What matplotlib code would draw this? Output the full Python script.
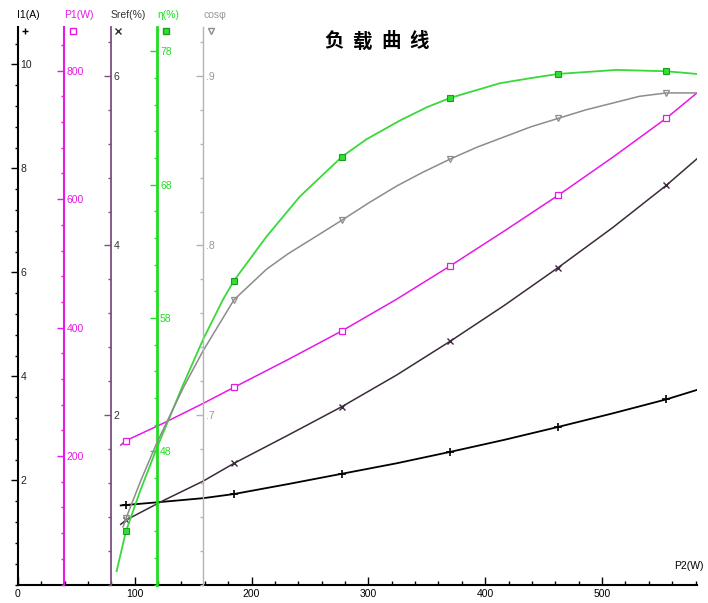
import matplotlib.pyplot as plt
from matplotlib.ticker import MultipleLocator

plt.rcParams['font.family'] = ['Liberation Sans', 'DejaVu Sans']

# measured load points (markers)
p2_mark = [92.5, 185, 277.5, 370, 462.5, 555]
i1_mark = [1.52, 1.74, 2.13, 2.55, 3.03, 3.56]
p1_mark = [224, 307, 395, 496, 606, 726]
sref_mark = [0.76, 1.43, 2.10, 2.87, 3.74, 4.71]
eta_mark = [42.0, 60.8, 70.1, 74.5, 76.3, 76.5]
cos_mark = [0.639, 0.768, 0.815, 0.851, 0.875, 0.890]

# fitted curves
i1_x = [88, 119, 158.6, 185, 231, 277.5, 324, 370, 416, 462.5, 509, 555, 581]
i1_y = [1.52, 1.58, 1.66, 1.74, 1.93, 2.13, 2.33, 2.55, 2.78, 3.03, 3.29, 3.56, 3.74]

p1_x = [88, 92.5, 124.4, 158.6, 185, 231, 277.5, 324, 370, 416, 462.5, 509, 555, 581]
p1_y = [217, 224, 251, 282, 307, 350, 395, 444, 496, 550, 606, 665, 726, 765]

sref_x = [88, 92.5, 124.4, 158.6, 185, 231, 277.5, 324, 370, 416, 462.5, 509, 555, 581]
sref_y = [0.71, 0.76, 0.99, 1.22, 1.43, 1.76, 2.10, 2.47, 2.87, 3.29, 3.74, 4.21, 4.71, 5.02]

eta_x = [84.5, 92.5, 105, 119.2, 141.5, 158.6, 175.7, 185, 212.8, 241.3, 277.5,
         298.4, 326.9, 350, 370, 412.4, 440, 462.5, 512.2, 555, 581]
eta_y = [39.0, 42.0, 45.1, 48.3, 53.0, 56.4, 59.4, 60.8, 64.1, 67.1, 70.1,
         71.4, 72.8, 73.8, 74.5, 75.6, 76.0, 76.3, 76.6, 76.5, 76.3]

cos_x = [90, 92.5, 105, 119.2, 141.5, 158.6, 185, 212.8, 231, 252, 277.5, 300,
         324, 346, 370, 393, 416, 439, 462.5, 486, 509, 532, 555, 581]
cos_y = [0.634, 0.639, 0.661, 0.684, 0.716, 0.738, 0.768, 0.786, 0.795, 0.804, 0.815, 0.825,
         0.835, 0.843, 0.851, 0.858, 0.864, 0.870, 0.875, 0.880, 0.884, 0.888, 0.890, 0.890]

W, H = 708, 603
x0, x1 = 17.9, 696.7      # pixel span of P2 axis
ybot, ytop = 584.5, 27.0  # pixel span of vertical axes
rect = [x0 / W, (H - ybot) / H, (x1 - x0) / W, (ybot - ytop) / H]

fig = plt.figure(figsize=(W / 100, H / 100), dpi=100)
ax = fig.add_axes(rect)
ax.set_xlim(0, 581)
ax.set_ylim(0, 1)
for s in ['top', 'right', 'left']:
    ax.spines[s].set_visible(False)
ax.spines['bottom'].set_linewidth(1.5)
ax.yaxis.set_visible(False)
ax.set_xticks([0, 100, 200, 300, 400, 500])
ax.xaxis.set_minor_locator(MultipleLocator(20))
ax.tick_params(axis='x', which='major', direction='in', length=6, width=1, labelsize=7.5, pad=3)
ax.tick_params(axis='x', which='minor', direction='in', length=3, width=1)


def side_axis(px, color, lw, ylim, major, labels, minor, labelcolor):
    a = fig.add_axes(rect, sharex=ax)
    a.patch.set_visible(False)
    for s in ['top', 'right', 'bottom']:
        a.spines[s].set_visible(False)
    a.spines['left'].set_position(('axes', (px - x0) / (x1 - x0)))
    a.spines['left'].set_color(color)
    a.spines['left'].set_linewidth(lw)
    a.xaxis.set_visible(False)
    a.set_ylim(*ylim)
    a.set_yticks(major)
    a.set_yticklabels(labels)
    a.yaxis.set_minor_locator(MultipleLocator(minor))
    a.tick_params(axis='y', which='major', direction='out', length=5, width=1,
                  color=color, labelcolor=labelcolor, labelsize=7.5, pad=-7)
    a.tick_params(axis='y', which='minor', direction='out', length=2.5, width=1, color=color)
    for t in a.get_yticklabels():
        t.set_horizontalalignment('left')
    return a


magenta = '#e619e6'
green = '#22dd22'
purple = '#7d4f7d'
grey = '#b4b4b4'

a_i1 = side_axis(17.9, 'black', 1.5, (0, 10.72), [2, 4, 6, 8, 10],
                 ['2', '4', '6', '8', '10'], 0.4, '#222222')
a_p1 = side_axis(64, magenta, 1.5, (0, 868), [200, 400, 600, 800],
                 ['200', '400', '600', '800'], 40, magenta)
a_s = side_axis(111, purple, 1.3, (0, 6.578), [2, 4, 6],
                ['2', '4', '6'], 0.4, '#333333')
a_eta = side_axis(157.3, green, 2.0, (38, 79.82), [48, 58, 68, 78],
                  ['48', '58', '68', '78'], 2, green)
a_cos = side_axis(203.3, grey, 1.0, (0.6, 0.9289), [0.7, 0.8, 0.9],
                  ['.7', '.8', '.9'], 0.02, '#999999')

# curves
a_cos.plot(cos_x, cos_y, color='#8c8c8c', lw=1.1)
a_cos.plot(p2_mark, cos_mark, ls='none', marker='v', ms=5, mfc='none', mec='#8c8c8c', mew=0.9)
a_eta.plot(eta_x, eta_y, color='#3ad83a', lw=1.3)
a_eta.plot(p2_mark, eta_mark, ls='none', marker='s', ms=5, mfc='#33dd33', mec='#18a018', mew=0.8)
a_p1.plot(p1_x, p1_y, color=magenta, lw=1.1)
a_p1.plot(p2_mark, p1_mark, ls='none', marker='s', ms=5, mfc='white', mec=magenta, mew=0.9)
a_s.plot(sref_x, sref_y, color='#3c2a3c', lw=1.1)
a_s.plot(p2_mark, sref_mark, ls='none', marker='x', ms=5, color='#3c2a3c', mew=1.0)
a_i1.plot(i1_x, i1_y, color='black', lw=1.3)
a_i1.plot(p2_mark, i1_mark, ls='none', marker='+', ms=6, color='black', mew=1.2)

# symbols and names at the top of each axis
ymark = (ybot - 30.7) / (ybot - ytop)
sym = [(25, '+', 'black', 'black'), (72.7, 's', 'none', magenta),
       (118.3, 'x', '#3c2a3c', '#3c2a3c'), (165.7, 's', '#33dd33', '#18a018'),
       (211, 'v', 'none', '#8c8c8c')]
for px, m, fc, ec in sym:
    ax.plot([(px - x0) / (x1 - x0)], [ymark], marker=m, ms=4.5, mfc=fc, mec=ec,
            mew=1.0, transform=ax.transAxes, clip_on=False)

names = [(17, 'I1(A)', 'black'), (64, 'P1(W)', magenta), (111, 'Sref(%)', '#333333'),
         (157, 'η(%)', green), (203, 'cosφ', '#999999')]
for px, txt, c in names:
    fig.text(px / W, 1 - 15 / H, txt, color=c, fontsize=7.5, ha='left', va='center')

fig.text(704 / W, 1 - 566 / H, 'P2(W)', fontsize=7.5, ha='right', va='center')

title = ['负', '载', '曲', '线']
for px, ch in zip([334, 362.3, 390.7, 419], title):
    fig.text(px / W, 1 - 41.7 / H, ch, fontsize=14, ha='center', va='center',
             family=['Noto Sans CJK SC', 'DejaVu Sans'], fontweight='bold')

fig.savefig('out.png', dpi=100)
